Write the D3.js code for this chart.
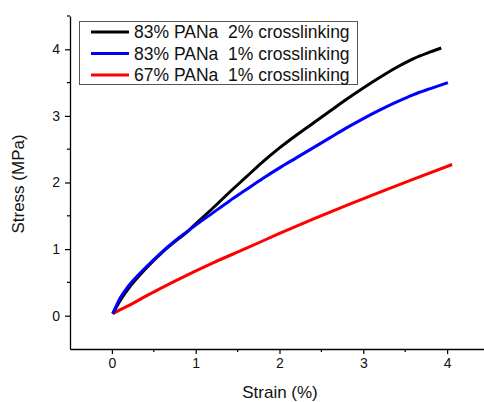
<!DOCTYPE html>
<html>
<head>
<meta charset="utf-8">
<script src="https://cdn.jsdelivr.net/npm/d3@7/dist/d3.min.js"></script>
<style>
  html, body { margin: 0; padding: 0; background: #fff; }
  svg { display: block; font-family: "Liberation Sans", Arial, sans-serif; }
</style>
</head>
<body>
<svg id="chart" width="484" height="402"></svg>
<script>
// Stress-strain data for three hydrogel compositions
const seriesNames = ["83% PANa  2% crosslinking", "83% PANa  1% crosslinking", "67% PANa  1% crosslinking"];
const seriesColors = ["#000000", "#0000ff", "#ff0000"];

const strainA = [0.01, 0.1, 0.2, 0.4, 0.6, 0.8, 0.9, 1.0, 1.2, 1.4, 1.6, 1.8, 2.0, 2.2, 2.4, 2.6, 2.8, 3.0, 3.2, 3.4, 3.6, 3.8, 3.93];
const stressA = [0.03, 0.23, 0.41, 0.70, 0.95, 1.16, 1.26, 1.38, 1.61, 1.85, 2.08, 2.31, 2.52, 2.71, 2.89, 3.07, 3.25, 3.42, 3.58, 3.73, 3.86, 3.96, 4.02];

const strainB = [0.01, 0.1, 0.2, 0.4, 0.6, 0.8, 1.0, 1.2, 1.4, 1.6, 1.8, 2.0, 2.2, 2.4, 2.6, 2.8, 3.0, 3.2, 3.4, 3.6, 3.8, 4.01];
const stressB = [0.03, 0.27, 0.45, 0.72, 0.96, 1.17, 1.36, 1.54, 1.72, 1.89, 2.06, 2.22, 2.37, 2.52, 2.67, 2.82, 2.96, 3.09, 3.21, 3.32, 3.41, 3.50];

const strainC = [0.01, 0.1, 0.2, 0.4, 0.8, 1.2, 1.6, 2.0, 2.4, 2.8, 3.2, 3.6, 4.06];
const stressC = [0.03, 0.09, 0.15, 0.29, 0.55, 0.79, 1.01, 1.235, 1.45, 1.655, 1.855, 2.05, 2.27];

const xMajorTicks = [0, 1, 2, 3, 4];
const xMinorTicks = [0.5, 1.5, 2.5, 3.5];
const yMajorTicks = [0, 1, 2, 3, 4];
const yMinorTicks = [0.5, 1.5, 2.5, 3.5, 4.5];

const xTitle = "Strain (%)";
const yTitle = "Stress (MPa)";

const svg = d3.select("#chart");

const x = d3.scaleLinear().domain([-0.5, 4.5]).range([70, 489]);
const y = d3.scaleLinear().domain([-0.5, 4.5]).range([349, 16]);

// Axes (left and bottom only, ticks outward)
const xAxis = d3.axisBottom(x).tickValues(xMajorTicks).tickFormat(d3.format("d")).tickSize(5).tickPadding(4).tickSizeOuter(0);
const yAxis = d3.axisLeft(y).tickValues(yMajorTicks).tickFormat(d3.format("d")).tickSize(5).tickPadding(5).tickSizeOuter(0);

const gx = svg.append("g").attr("transform", `translate(0,${y(-0.5)})`).call(xAxis);
const gy = svg.append("g").attr("transform", `translate(${x(-0.5)},0)`).call(yAxis);

gx.append("g").selectAll("line").data(xMinorTicks).join("line")
  .attr("x1", d => x(d)).attr("x2", d => x(d)).attr("y1", 0).attr("y2", 3);
gy.append("g").selectAll("line").data(yMinorTicks).join("line")
  .attr("y1", d => y(d)).attr("y2", d => y(d)).attr("x1", 0).attr("x2", -3);

[gx, gy].forEach(g => {
  g.select(".domain").attr("stroke", "#000").attr("stroke-width", 1.3);
  g.selectAll("line").attr("stroke", "#000").attr("stroke-width", 1.2);
  g.selectAll("text").attr("font-size", 14).attr("fill", "#111")
    .attr("font-family", "'Liberation Sans', Arial, sans-serif");
});

// Axis titles
svg.append("text")
  .attr("x", 280).attr("y", 398)
  .attr("text-anchor", "middle")
  .attr("font-size", 17).attr("fill", "#111")
  .text(xTitle);

svg.append("text")
  .attr("transform", "translate(24,184) rotate(-90)")
  .attr("text-anchor", "middle")
  .attr("font-size", 17).attr("fill", "#111")
  .text(yTitle);

// Curves
const series = [
  { strain: strainA, stress: stressA },
  { strain: strainB, stress: stressB },
  { strain: strainC, stress: stressC }
];

const line = d3.line()
  .x(d => x(d[0]))
  .y(d => y(d[1]))
  .curve(d3.curveMonotoneX);

// red first, then black, blue drawn last
[2, 0, 1].forEach(i => {
  const pts = series[i].strain.map((s, k) => [s, series[i].stress[k]]);
  svg.append("path")
    .datum(pts)
    .attr("d", line)
    .attr("fill", "none")
    .attr("stroke", seriesColors[i])
    .attr("stroke-width", 3)
    .attr("stroke-linejoin", "round");
});

// Legend
const legend = svg.append("g");
legend.append("rect")
  .attr("x", 79.5).attr("y", 21.5).attr("width", 278).attr("height", 63)
  .attr("fill", "#fff").attr("stroke", "#555").attr("stroke-width", 1);

seriesNames.forEach((name, i) => {
  const cy = 32 + i * 21.5;
  legend.append("line")
    .attr("x1", 91).attr("x2", 129).attr("y1", cy).attr("y2", cy)
    .attr("stroke", seriesColors[i]).attr("stroke-width", 3);
  legend.append("text")
    .attr("x", 134).attr("y", cy + 6)
    .attr("font-size", 17.5).attr("fill", "#111")
    .style("white-space", "pre")
    .text(name);
});
</script>
</body>
</html>
